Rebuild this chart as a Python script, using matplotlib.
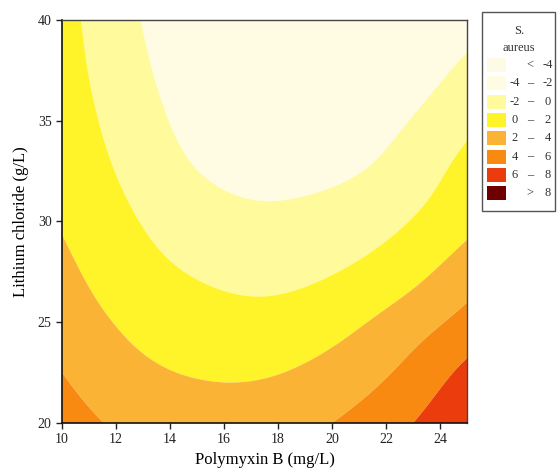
import numpy as np
import matplotlib
matplotlib.use("Agg")
import matplotlib.pyplot as plt
from matplotlib.patches import Rectangle

plt.rcParams['font.family'] = ['Liberation Serif', 'DejaVu Serif']

# Grid of S. aureus response values
polymyxin_b = [10, 12.5, 15, 17.5, 20, 22.5, 25]                 # mg/L
lithium_chloride = [20, 22.5, 25, 27.5, 30, 32.5, 35, 37.5, 40]  # g/L
# rows: lithium chloride (20 -> 40), columns: polymyxin B (10 -> 25)
response = [
    [4.87, 3.56, 2.98, 3.13, 4.00, 5.59, 7.80],
    [4.00, 2.55, 1.87, 1.85, 2.68, 4.22, 6.50],
    [3.15, 1.68, 0.85, 0.60, 1.30, 2.78, 4.65],
    [2.47, 0.88, -0.15, -0.55, -0.08, 1.10, 3.05],
    [1.85, 0.22, -1.10, -1.62, -1.20, -0.20, 1.50],
    [1.40, -0.40, -1.98, -2.50, -2.35, -1.30, 0.65],
    [1.10, -0.92, -2.60, -3.18, -3.08, -2.20, -0.50],
    [0.88, -1.35, -2.98, -3.55, -3.50, -2.95, -1.65],
    [0.72, -1.68, -3.20, -3.75, -3.80, -3.35, -2.60],
]

levels = [-100, -4, -2, 0, 2, 4, 6, 8, 100]
level_colors = ['#fdfae6', '#fffce3', '#fffa9c', '#fff42a',
                '#fbb336', '#f88a12', '#eb3c0d', '#6e0000']
legend_low = ['', '-4', '-2', '0', '2', '4', '6', '']
legend_sep = ['<', '–', '–', '–', '–', '–', '–', '>']
legend_high = ['-4', '-2', '0', '2', '4', '6', '8', '8']


def spline_weights(xs, xn):
    """Natural cubic spline weights so that f(xn) = W @ f(xs)."""
    xs = np.asarray(xs, float)
    n = len(xs)
    h = np.diff(xs)
    A = np.zeros((n, n))
    B = np.zeros((n, n))
    A[0, 0] = A[-1, -1] = 1
    for i in range(1, n - 1):
        A[i, i - 1] = h[i - 1] / 6
        A[i, i] = (h[i - 1] + h[i]) / 3
        A[i, i + 1] = h[i] / 6
        B[i, i - 1] = 1 / h[i - 1]
        B[i, i] = -1 / h[i - 1] - 1 / h[i]
        B[i, i + 1] = 1 / h[i]
    Mm = np.linalg.solve(A, B)
    W = np.zeros((len(xn), n))
    I = np.eye(n)
    for k, xv in enumerate(xn):
        j = min(max(np.searchsorted(xs, xv) - 1, 0), n - 2)
        hj = h[j]
        p = xs[j + 1] - xv
        q = xv - xs[j]
        a = p ** 3 / (6 * hj) - hj * p / 6
        b = q ** 3 / (6 * hj) - hj * q / 6
        W[k] = a * Mm[j] + b * Mm[j + 1] + (p / hj) * I[j] + (q / hj) * I[j + 1]
    return W


x = np.array(polymyxin_b, float)
y = np.array(lithium_chloride, float)
Z = np.array(response)
xf = np.linspace(x[0], x[-1], 301)
yf = np.linspace(y[0], y[-1], 401)
Zf = spline_weights(y, yf) @ Z @ spline_weights(x, xf).T

fig = plt.figure(figsize=(5.6, 4.69), dpi=100)
ax = fig.add_axes([62 / 560, 1 - 423 / 469, (467 - 62) / 560, (423 - 20) / 469])
ax.contourf(xf, yf, Zf, levels=levels, colors=level_colors, antialiased=True)
ax.set_xlim(10, 25)
ax.set_ylim(20, 40)
ax.set_xticks([10, 12, 14, 16, 18, 20, 22, 24])
ax.set_yticks([20, 25, 30, 35, 40])
ax.tick_params(direction='out', length=4, width=1, labelsize=10, colors='#222222')
for s in ['left', 'bottom']:
    ax.spines[s].set_linewidth(1.2)
    ax.spines[s].set_color('#111111')
for s in ['top', 'right']:
    ax.spines[s].set_linewidth(1.0)
    ax.spines[s].set_color('#444444')
ax.set_xlabel('Polymyxin B (mg/L)', fontsize=12, labelpad=4)
ax.set_ylabel('Lithium chloride (g/L)', fontsize=12, labelpad=6)

# Legend box
W, H = 560, 469
def fx(px):
    return px / W
def fy(py):
    return 1 - py / H

fig.patches.append(Rectangle((fx(482), fy(211)), (555 - 482) / W, (211 - 12) / H,
                             transform=fig.transFigure, fill=False,
                             edgecolor='#555555', linewidth=1.0))
fig.text(fx(519), fy(31), 'S.', ha='center', va='center', fontsize=9, color='#333333')
fig.text(fx(519), fy(48), 'aureus', ha='center', va='center', fontsize=9, color='#333333')
for i in range(len(level_colors)):
    yc = 65 + i * 18.3
    fig.patches.append(Rectangle((fx(487), fy(yc + 7)), 19 / W, 14 / H,
                                 transform=fig.transFigure, facecolor=level_colors[i],
                                 edgecolor='none'))
    fig.text(fx(515), fy(yc), legend_low[i], ha='center', va='center', fontsize=9, color='#333333')
    fig.text(fx(530), fy(yc), legend_sep[i], ha='center', va='center', fontsize=9, color='#333333')
    fig.text(fx(548), fy(yc), legend_high[i], ha='center', va='center', fontsize=9, color='#333333')

fig.savefig('out.png', dpi=100)
